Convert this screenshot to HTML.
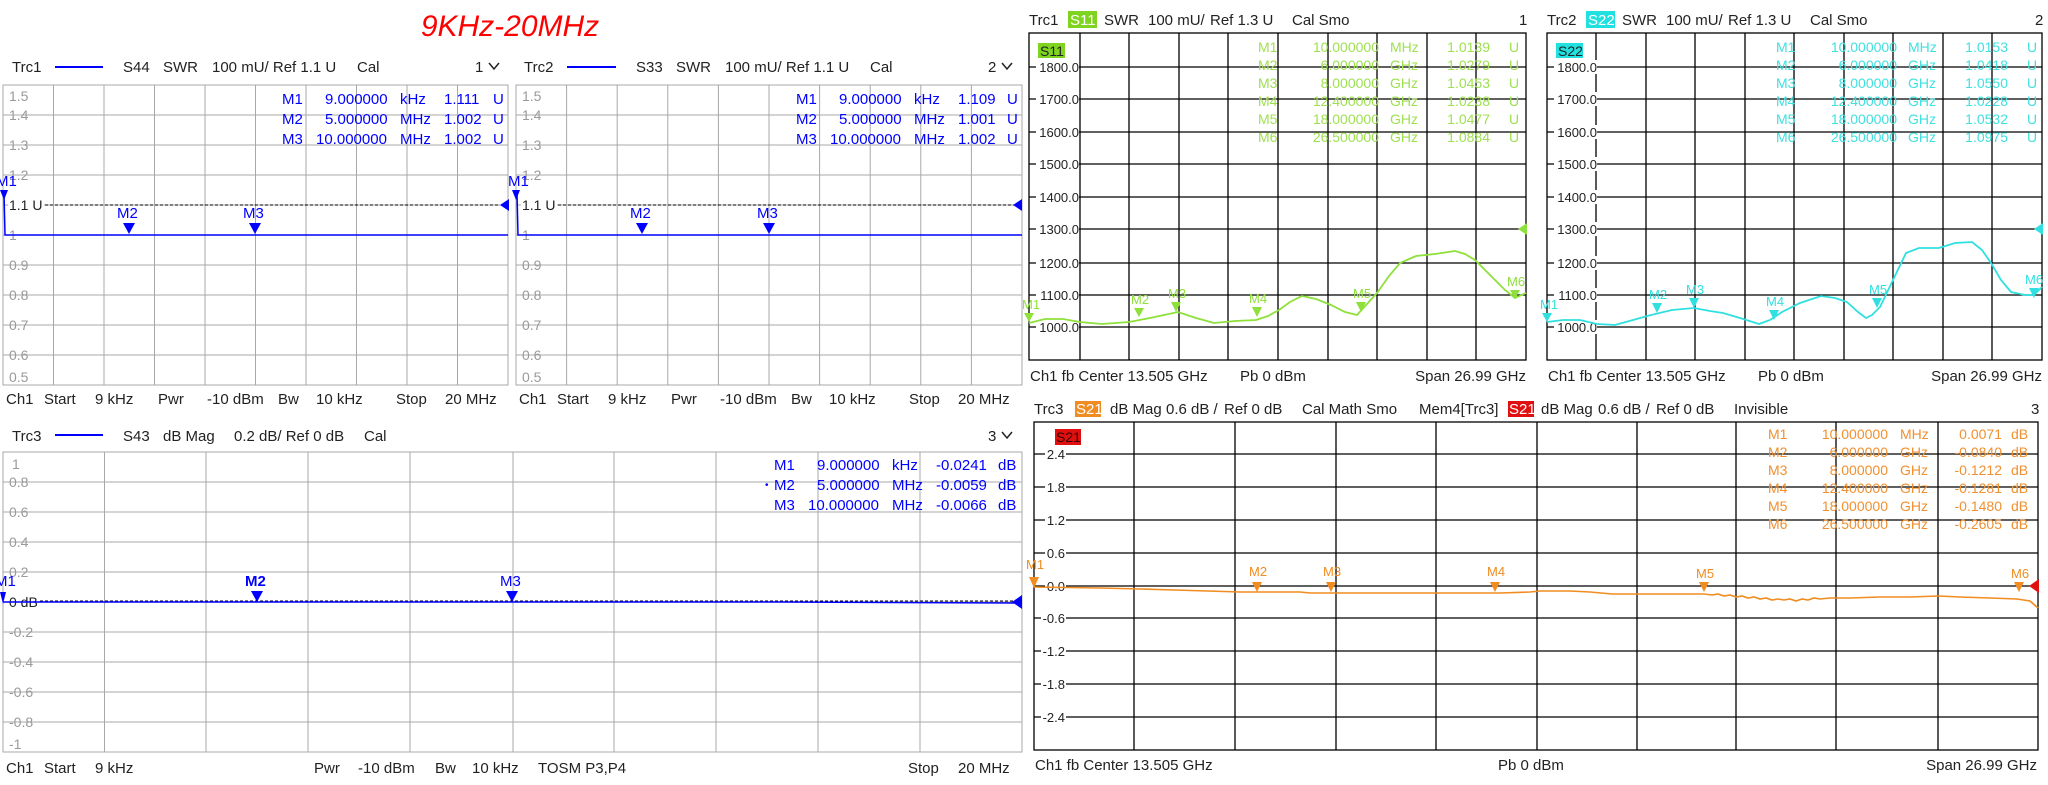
<!DOCTYPE html>
<html><head><meta charset="utf-8"><style>
html,body{margin:0;padding:0;background:#fff;}
svg{display:block;font-family:"Liberation Sans Narrow","Liberation Sans",sans-serif;}
</style></head><body>
<svg width="2048" height="785" viewBox="0 0 2048 785" xmlns="http://www.w3.org/2000/svg">
<rect width="2048" height="785" fill="#fff"/>
<text x="510" y="36" fill="#ff0000" font-size="30" font-style="italic" text-anchor="middle" font-family="Liberation Sans,sans-serif">9KHz-20MHz</text>

<!-- ===== Panel A (top-left) ===== -->
<g font-size="15" fill="#222">
<text x="12" y="72">Trc1</text><line x1="55" y1="67" x2="103" y2="67" stroke="#0000ff" stroke-width="2"/>
<text x="123" y="72">S44</text><text x="163" y="72">SWR</text><text x="212" y="72">100 mU/ Ref 1.1 U</text><text x="357" y="72">Cal</text><text x="475" y="72">1</text>
<polyline points="489,63 494,69 499,63" fill="none" stroke="#222" stroke-width="1.5"/>
<text x="524" y="72">Trc2</text><line x1="567" y1="67" x2="616" y2="67" stroke="#0000ff" stroke-width="2"/>
<text x="636" y="72">S33</text><text x="676" y="72">SWR</text><text x="725" y="72">100 mU/ Ref 1.1 U</text><text x="870" y="72">Cal</text><text x="988" y="72">2</text>
<polyline points="1002,63 1007,69 1012,63" fill="none" stroke="#222" stroke-width="1.5"/>
</g>
<g stroke="#a8a8a8" stroke-width="1" fill="none">
<rect x="3" y="85" width="505" height="300"/>
<path d="M53.5 85V385M104 85V385M154.5 85V385M205 85V385M255.5 85V385M306 85V385M356.5 85V385M407 85V385M457.5 85V385M3 115H508M3 145H508M3 175H508M3 205H508M3 235H508M3 265H508M3 295H508M3 325H508M3 355H508"/>
<rect x="516" y="85" width="506" height="300"/>
<path d="M566.6 85V385M617.2 85V385M667.8 85V385M718.4 85V385M769 85V385M819.6 85V385M870.2 85V385M920.8 85V385M971.4 85V385M516 115H1022M516 145H1022M516 175H1022M516 205H1022M516 235H1022M516 265H1022M516 295H1022M516 325H1022M516 355H1022"/>
<rect x="3" y="452" width="1019" height="300"/>
<path d="M104.5 452V752M206 452V752M308 452V752M410 452V752M513 452V752M614 452V752M716 452V752M818 452V752M920 452V752M3 482H1022M3 512H1022M3 542H1022M3 572H1022M3 602H1022M3 632H1022M3 662H1022M3 692H1022M3 722H1022"/>
</g>
<g font-size="14" fill="#9a9a9a">
<text x="9" y="101">1.5</text><text x="9" y="120">1.4</text><text x="9" y="150">1.3</text><text x="9" y="180">1.2</text><text x="9" y="240">1</text><text x="9" y="270">0.9</text><text x="9" y="300">0.8</text><text x="9" y="330">0.7</text><text x="9" y="360">0.6</text><text x="9" y="382">0.5</text>
<text x="522" y="101">1.5</text><text x="522" y="120">1.4</text><text x="522" y="150">1.3</text><text x="522" y="180">1.2</text><text x="522" y="240">1</text><text x="522" y="270">0.9</text><text x="522" y="300">0.8</text><text x="522" y="330">0.7</text><text x="522" y="360">0.6</text><text x="522" y="382">0.5</text>
<text x="12" y="469">1</text><text x="9" y="487">0.8</text><text x="9" y="517">0.6</text><text x="9" y="547">0.4</text><text x="9" y="577">0.2</text><text x="9" y="637">-0.2</text><text x="9" y="667">-0.4</text><text x="9" y="697">-0.6</text><text x="9" y="727">-0.8</text><text x="9" y="749">-1</text>
</g>
<g font-size="14" fill="#222">
<rect x="8" y="198" width="36" height="14" fill="#fff"/><text x="9" y="210">1.1 U</text>
<rect x="521" y="198" width="36" height="14" fill="#fff"/><text x="522" y="210">1.1 U</text>
<rect x="8" y="595" width="32" height="14" fill="#fff"/><text x="9" y="607">0 dB</text>
</g>
<g stroke="#000" stroke-dasharray="3,2" stroke-width="1"><line x1="45" y1="205" x2="500" y2="205"/><line x1="558" y1="205" x2="1014" y2="205"/><line x1="40" y1="601" x2="1014" y2="601"/></g>
<g stroke="#0000ff" stroke-width="1.5" fill="none">
<polyline points="3,193 4,193 5,235 508,235"/>
<polyline points="516,193 517,193 518,235 1022,235"/>
<polyline points="3,602 780,602 1022,603"/>
</g>
<g fill="#0000ff">
<polygon points="0,190 8,190 4,200"/><polygon points="500,205 509,199 509,211"/>
<polygon points="123,223 135,223 129,234"/><polygon points="249,223 261,223 255,234"/>
<polygon points="512,190 520,190 516,200"/><polygon points="1013,205 1022,199 1022,211"/>
<polygon points="636,223 648,223 642,234"/><polygon points="763,223 775,223 769,234"/>
<polygon points="0,592 6,592 3,604"/><polygon points="1012,602 1022,595 1022,609"/>
<polygon points="251,591 263,591 257,602"/><polygon points="506,591 518,591 512,602"/>
</g>
<g font-size="15" fill="#0000ff">
<text x="-4" y="186">M1</text><text x="117" y="218">M2</text><text x="243" y="218">M3</text>
<text x="508" y="186">M1</text><text x="630" y="218">M2</text><text x="757" y="218">M3</text>
<text x="-5" y="586">M1</text><text x="245" y="586" font-weight="bold">M2</text><text x="500" y="586">M3</text>
<text x="282" y="104">M1</text><text x="325" y="104">9.000000</text><text x="400" y="104">kHz</text><text x="444" y="104">1.111</text><text x="493" y="104">U</text>
<text x="282" y="124">M2</text><text x="325" y="124">5.000000</text><text x="400" y="124">MHz</text><text x="444" y="124">1.002</text><text x="493" y="124">U</text>
<text x="282" y="144">M3</text><text x="316" y="144">10.000000</text><text x="400" y="144">MHz</text><text x="444" y="144">1.002</text><text x="493" y="144">U</text>
<text x="796" y="104">M1</text><text x="839" y="104">9.000000</text><text x="914" y="104">kHz</text><text x="958" y="104">1.109</text><text x="1007" y="104">U</text>
<text x="796" y="124">M2</text><text x="839" y="124">5.000000</text><text x="914" y="124">MHz</text><text x="958" y="124">1.001</text><text x="1007" y="124">U</text>
<text x="796" y="144">M3</text><text x="830" y="144">10.000000</text><text x="914" y="144">MHz</text><text x="958" y="144">1.002</text><text x="1007" y="144">U</text>
<text x="774" y="470">M1</text><text x="817" y="470">9.000000</text><text x="892" y="470">kHz</text><text x="936" y="470">-0.0241</text><text x="998" y="470">dB</text>
<text x="765" y="488" font-size="10">•</text><text x="774" y="490">M2</text><text x="817" y="490">5.000000</text><text x="892" y="490">MHz</text><text x="936" y="490">-0.0059</text><text x="998" y="490">dB</text>
<text x="774" y="510">M3</text><text x="808" y="510">10.000000</text><text x="892" y="510">MHz</text><text x="936" y="510">-0.0066</text><text x="998" y="510">dB</text>
</g>
<g font-size="15" fill="#222">
<text x="6" y="404">Ch1</text><text x="44" y="404">Start</text><text x="95" y="404">9 kHz</text><text x="158" y="404">Pwr</text><text x="207" y="404">-10 dBm</text><text x="278" y="404">Bw</text><text x="316" y="404">10 kHz</text><text x="396" y="404">Stop</text><text x="445" y="404">20 MHz</text>
<text x="519" y="404">Ch1</text><text x="557" y="404">Start</text><text x="608" y="404">9 kHz</text><text x="671" y="404">Pwr</text><text x="720" y="404">-10 dBm</text><text x="791" y="404">Bw</text><text x="829" y="404">10 kHz</text><text x="909" y="404">Stop</text><text x="958" y="404">20 MHz</text>
<text x="12" y="441">Trc3</text><line x1="55" y1="435" x2="103" y2="435" stroke="#0000ff" stroke-width="2"/>
<text x="123" y="441">S43</text><text x="163" y="441">dB Mag</text><text x="234" y="441">0.2 dB/ Ref 0 dB</text><text x="364" y="441">Cal</text><text x="988" y="441">3</text>
<text x="6" y="773">Ch1</text><text x="44" y="773">Start</text><text x="95" y="773">9 kHz</text><text x="314" y="773">Pwr</text><text x="358" y="773">-10 dBm</text><text x="435" y="773">Bw</text><text x="472" y="773">10 kHz</text><text x="538" y="773">TOSM P3,P4</text><text x="908" y="773">Stop</text><text x="958" y="773">20 MHz</text>
</g>
<polyline points="1002,432 1007,438 1012,432" fill="none" stroke="#222" stroke-width="1.5"/>

<!-- ===== Panels C & D (top-right) ===== -->
<g stroke="#000" stroke-width="1.3" fill="none">
<rect x="1029" y="33" width="497" height="327"/>
<path d="M1080 33V360M1129 33V360M1179 33V360M1228 33V360M1278 33V360M1328 33V360M1377 33V360M1427 33V360M1476 33V360M1029 67H1526M1029 99H1526M1029 132H1526M1029 164H1526M1029 197H1526M1029 229H1526M1029 263H1526M1029 295H1526M1029 327H1526"/>
<rect x="1547" y="33" width="495" height="327"/>
<path d="M1596 33V360M1646 33V360M1695 33V360M1745 33V360M1794 33V360M1844 33V360M1893 33V360M1943 33V360M1992 33V360M1547 67H2042M1547 99H2042M1547 132H2042M1547 164H2042M1547 197H2042M1547 229H2042M1547 263H2042M1547 295H2042M1547 327H2042"/>
</g>
<g font-size="13" fill="#222" text-anchor="end">
<g id="lblC">
<rect x="1036" y="60" width="43" height="14" fill="#fff"/><text x="1079" y="72">1800.0</text>
<rect x="1036" y="92" width="43" height="14" fill="#fff"/><text x="1079" y="104">1700.0</text>
<rect x="1036" y="125" width="43" height="14" fill="#fff"/><text x="1079" y="137">1600.0</text>
<rect x="1036" y="157" width="43" height="14" fill="#fff"/><text x="1079" y="169">1500.0</text>
<rect x="1036" y="190" width="43" height="14" fill="#fff"/><text x="1079" y="202">1400.0</text>
<rect x="1036" y="222" width="43" height="14" fill="#fff"/><text x="1079" y="234">1300.0</text>
<rect x="1036" y="256" width="43" height="14" fill="#fff"/><text x="1079" y="268">1200.0</text>
<rect x="1036" y="288" width="43" height="14" fill="#fff"/><text x="1079" y="300">1100.0</text>
<rect x="1036" y="320" width="43" height="14" fill="#fff"/><text x="1079" y="332">1000.0</text>
</g>
<use href="#lblC" x="518"/>
</g>
<g font-size="15" fill="#222">
<text x="1029" y="25">Trc1</text><rect x="1068" y="11" width="29" height="17" fill="#7fd420"/><text x="1070" y="25" fill="#fff">S11</text>
<text x="1104" y="25">SWR</text><text x="1148" y="25">100 mU/</text><text x="1210" y="25">Ref 1.3 U</text><text x="1292" y="25">Cal Smo</text><text x="1519" y="25">1</text>
<text x="1547" y="25">Trc2</text><rect x="1586" y="11" width="29" height="17" fill="#20e0e0"/><text x="1588" y="25" fill="#fff">S22</text>
<text x="1622" y="25">SWR</text><text x="1666" y="25">100 mU/</text><text x="1728" y="25">Ref 1.3 U</text><text x="1810" y="25">Cal Smo</text><text x="2035" y="25">2</text>
<text x="1030" y="381">Ch1  fb  Center  13.505 GHz</text><text x="1240" y="381">Pb  0 dBm</text><text x="1526" y="381" text-anchor="end">Span  26.99 GHz</text>
<text x="1548" y="381">Ch1  fb  Center  13.505 GHz</text><text x="1758" y="381">Pb  0 dBm</text><text x="2042" y="381" text-anchor="end">Span  26.99 GHz</text>
<rect x="1038" y="43" width="27" height="15" fill="#7fd420"/><text x="1040" y="56" font-size="14">S11</text>
<rect x="1556" y="43" width="27" height="15" fill="#20e0e0"/><text x="1558" y="56" font-size="14">S22</text>
</g>
<g font-size="14" fill="#9ee050">
<text x="1258" y="52">M1</text><text x="1379" y="52" text-anchor="end">10.000000</text><text x="1390" y="52">MHz</text><text x="1490" y="52" text-anchor="end">1.0139</text><text x="1509" y="52">U</text>
<text x="1258" y="70">M2</text><text x="1379" y="70" text-anchor="end">6.000000</text><text x="1390" y="70">GHz</text><text x="1490" y="70" text-anchor="end">1.0279</text><text x="1509" y="70">U</text>
<text x="1258" y="88">M3</text><text x="1379" y="88" text-anchor="end">8.000000</text><text x="1390" y="88">GHz</text><text x="1490" y="88" text-anchor="end">1.0453</text><text x="1509" y="88">U</text>
<text x="1258" y="106">M4</text><text x="1379" y="106" text-anchor="end">12.400000</text><text x="1390" y="106">GHz</text><text x="1490" y="106" text-anchor="end">1.0238</text><text x="1509" y="106">U</text>
<text x="1258" y="124">M5</text><text x="1379" y="124" text-anchor="end">18.000000</text><text x="1390" y="124">GHz</text><text x="1490" y="124" text-anchor="end">1.0477</text><text x="1509" y="124">U</text>
<text x="1258" y="142">M6</text><text x="1379" y="142" text-anchor="end">26.500000</text><text x="1390" y="142">GHz</text><text x="1490" y="142" text-anchor="end">1.0884</text><text x="1509" y="142">U</text>
</g>
<g font-size="14" fill="#40e0e0">
<text x="1776" y="52">M1</text><text x="1897" y="52" text-anchor="end">10.000000</text><text x="1908" y="52">MHz</text><text x="2008" y="52" text-anchor="end">1.0153</text><text x="2027" y="52">U</text>
<text x="1776" y="70">M2</text><text x="1897" y="70" text-anchor="end">6.000000</text><text x="1908" y="70">GHz</text><text x="2008" y="70" text-anchor="end">1.0418</text><text x="2027" y="70">U</text>
<text x="1776" y="88">M3</text><text x="1897" y="88" text-anchor="end">8.000000</text><text x="1908" y="88">GHz</text><text x="2008" y="88" text-anchor="end">1.0550</text><text x="2027" y="88">U</text>
<text x="1776" y="106">M4</text><text x="1897" y="106" text-anchor="end">12.400000</text><text x="1908" y="106">GHz</text><text x="2008" y="106" text-anchor="end">1.0228</text><text x="2027" y="106">U</text>
<text x="1776" y="124">M5</text><text x="1897" y="124" text-anchor="end">18.000000</text><text x="1908" y="124">GHz</text><text x="2008" y="124" text-anchor="end">1.0532</text><text x="2027" y="124">U</text>
<text x="1776" y="142">M6</text><text x="1897" y="142" text-anchor="end">26.500000</text><text x="1908" y="142">GHz</text><text x="2008" y="142" text-anchor="end">1.0975</text><text x="2027" y="142">U</text>
</g>
<polyline fill="none" stroke="#8ee03a" stroke-width="1.8" points="1029,323 1045,319 1063,319 1080,322 1102,324 1129,322 1150,318 1178,312 1196,318 1214,323 1235,321 1256,320 1268,316 1279,310 1290,302 1302,296 1316,299 1331,305 1345,312 1357,315 1367,304 1377,293 1389,276 1400,263 1416,256 1435,254 1455,251 1465,254 1475,260 1485,270 1495,280 1505,290 1515,298 1526,293"/>
<polyline fill="none" stroke="#30e0e0" stroke-width="1.8" points="1547,322 1563,320 1580,320 1597,324 1615,325 1633,320 1651,315 1672,310 1694,308 1710,311 1723,313 1740,318 1759,324 1770,320 1782,312 1800,303 1821,296 1835,298 1847,302 1858,312 1866,318 1872,315 1880,307 1893,280 1906,253 1919,248 1939,248 1955,243 1972,242 1982,250 1991,263 2001,280 2011,292 2025,295 2034,295 2042,287"/>
<g fill="#8ee03a">
<polygon points="1024,313 1034,313 1029,322"/><polygon points="1134,308 1144,308 1139,317"/><polygon points="1171,302 1181,302 1176,312"/><polygon points="1252,307 1262,307 1257,317"/><polygon points="1356,302 1366,302 1361,312"/><polygon points="1510,290 1520,290 1515,299"/>
<polygon points="1518,229 1527,223 1527,235"/>
</g>
<g font-size="13" fill="#8ee03a"><text x="1022" y="309">M1</text><text x="1131" y="304">M2</text><text x="1168" y="298">M3</text><text x="1249" y="303">M4</text><text x="1353" y="298">M5</text><text x="1507" y="286">M6</text></g>
<g fill="#30e0e0">
<polygon points="1542,313 1552,313 1547,322"/><polygon points="1652,303 1662,303 1657,313"/><polygon points="1689,298 1699,298 1694,308"/><polygon points="1769,310 1779,310 1774,320"/><polygon points="1872,298 1882,298 1877,308"/><polygon points="2029,288 2039,288 2034,298"/>
<polygon points="2034,229 2043,223 2043,235"/>
</g>
<g font-size="13" fill="#30e0e0"><text x="1540" y="309">M1</text><text x="1649" y="299">M2</text><text x="1686" y="294">M3</text><text x="1766" y="306">M4</text><text x="1869" y="294">M5</text><text x="2025" y="284">M6</text></g>

<!-- ===== Panel E (bottom-right) ===== -->
<g stroke="#000" stroke-width="1.3" fill="none">
<rect x="1034" y="422" width="1004" height="328"/>
<path d="M1134 422V750M1235 422V750M1336 422V750M1436 422V750M1537 422V750M1637 422V750M1736 422V750M1836 422V750M1938 422V750M1034 454H2038M1034 487H2038M1034 520H2038M1034 553H2038M1034 586H2038M1034 618H2038M1034 651H2038M1034 684H2038M1034 717H2038"/>
</g>
<g font-size="13" fill="#222" text-anchor="end">
<rect x="1045" y="447" width="21" height="14" fill="#fff"/><text x="1065" y="459">2.4</text>
<rect x="1045" y="480" width="21" height="14" fill="#fff"/><text x="1065" y="492">1.8</text>
<rect x="1045" y="513" width="21" height="14" fill="#fff"/><text x="1065" y="525">1.2</text>
<rect x="1045" y="546" width="21" height="14" fill="#fff"/><text x="1065" y="558">0.6</text>
<rect x="1045" y="579" width="21" height="14" fill="#fff"/><text x="1065" y="591">0.0</text>
<rect x="1041" y="611" width="25" height="14" fill="#fff"/><text x="1065" y="623">-0.6</text>
<rect x="1041" y="644" width="25" height="14" fill="#fff"/><text x="1065" y="656">-1.2</text>
<rect x="1041" y="677" width="25" height="14" fill="#fff"/><text x="1065" y="689">-1.8</text>
<rect x="1041" y="710" width="25" height="14" fill="#fff"/><text x="1065" y="722">-2.4</text>
</g>
<g font-size="15" fill="#222">
<text x="1034" y="414">Trc3</text><rect x="1075" y="401" width="26" height="16" fill="#f08c20"/><text x="1076" y="414" fill="#fff">S21</text>
<text x="1110" y="414">dB Mag</text><text x="1166" y="414">0.6 dB /</text><text x="1224" y="414">Ref 0 dB</text><text x="1302" y="414">Cal Math Smo</text>
<text x="1419" y="414">Mem4[Trc3]</text><rect x="1508" y="401" width="26" height="16" fill="#e01010"/><text x="1509" y="414" fill="#fff">S21</text>
<text x="1541" y="414">dB Mag</text><text x="1598" y="414">0.6 dB /</text><text x="1656" y="414">Ref 0 dB</text><text x="1734" y="414">Invisible</text><text x="2031" y="414">3</text>
<text x="1035" y="770">Ch1  fb  Center  13.505 GHz</text><text x="1498" y="770">Pb  0 dBm</text><text x="2037" y="770" text-anchor="end">Span  26.99 GHz</text>
<rect x="1055" y="429" width="26" height="16" fill="#e01010"/><text x="1056" y="442" font-size="14" fill="#300">S21</text>
</g>
<g font-size="14" fill="#f09030">
<text x="1768" y="439">M1</text><text x="1888" y="439" text-anchor="end">10.000000</text><text x="1900" y="439">MHz</text><text x="2002" y="439" text-anchor="end">0.0071</text><text x="2011" y="439">dB</text>
<text x="1768" y="457">M2</text><text x="1888" y="457" text-anchor="end">6.000000</text><text x="1900" y="457">GHz</text><text x="2002" y="457" text-anchor="end">-0.0840</text><text x="2011" y="457">dB</text>
<text x="1768" y="475">M3</text><text x="1888" y="475" text-anchor="end">8.000000</text><text x="1900" y="475">GHz</text><text x="2002" y="475" text-anchor="end">-0.1212</text><text x="2011" y="475">dB</text>
<text x="1768" y="493">M4</text><text x="1888" y="493" text-anchor="end">12.400000</text><text x="1900" y="493">GHz</text><text x="2002" y="493" text-anchor="end">-0.1281</text><text x="2011" y="493">dB</text>
<text x="1768" y="511">M5</text><text x="1888" y="511" text-anchor="end">18.000000</text><text x="1900" y="511">GHz</text><text x="2002" y="511" text-anchor="end">-0.1480</text><text x="2011" y="511">dB</text>
<text x="1768" y="529">M6</text><text x="1888" y="529" text-anchor="end">26.500000</text><text x="1900" y="529">GHz</text><text x="2002" y="529" text-anchor="end">-0.2605</text><text x="2011" y="529">dB</text>
</g>
<polyline fill="none" stroke="#f08c20" stroke-width="1.6" points="1034,587 1100,588 1140,589 1175,590 1240,592 1300,592 1310,593 1400,593 1500,593 1530,592 1540,591 1570,591 1590,592 1612,594 1660,594 1704,594 1712,595 1718,594 1724,596 1730,595 1736,597 1742,596 1748,598 1754,597 1760,599 1766,598 1772,600 1778,599 1784,600 1790,599 1796,601 1802,599 1808,600 1814,598 1820,599 1830,598 1850,598 1880,597 1910,597 1939,596 1960,597 1990,598 2017,599 2030,601 2038,608"/>
<g fill="#f08c20">
<polygon points="1029,577 1039,577 1034,588"/><polygon points="1252,582 1262,582 1257,592"/><polygon points="1326,582 1336,582 1331,592"/><polygon points="1490,582 1500,582 1495,592"/><polygon points="1699,582 1709,582 1704,592"/><polygon points="2014,582 2024,582 2019,592"/>
</g>
<polygon points="2029,586 2039,579 2039,593" fill="#e01010"/>
<g font-size="13" fill="#f08c20"><text x="1026" y="569">M1</text><text x="1249" y="576">M2</text><text x="1323" y="576">M3</text><text x="1487" y="576">M4</text><text x="1696" y="578">M5</text><text x="2011" y="578">M6</text></g>
</svg>
</body></html>
